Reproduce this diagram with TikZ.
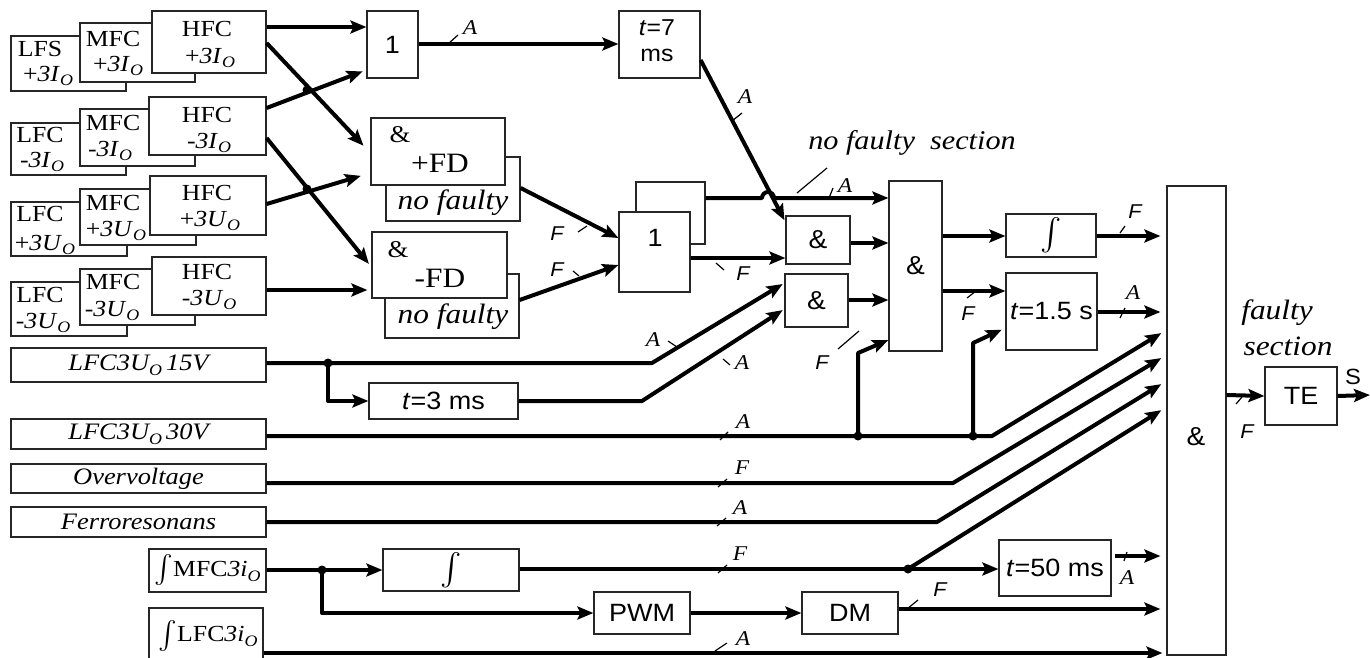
\documentclass[tikz,border=0pt]{standalone}
\usepackage{graphicx}
\usepackage{fontspec}
\setmainfont{Liberation Serif}[FakeStretch=1.12]
\setsansfont{Liberation Sans}[FakeStretch=1.08]
\usetikzlibrary{arrows.meta}
\newcommand\fsz[1]{\fontsize{#1pt}{#1pt}\selectfont}
\newcommand\so{\raisebox{-0.45ex}{\fsz{8}\itshape O}}
\newcommand\bigint[1]{\raisebox{-0.25ex}{\scalebox{#1}{$\int$}}}
\newcommand\bx[7][]{\node[box,#1,minimum width={(#5-#3)*0.5pt},minimum height={(#6-#4)*0.5pt}] (#2) at ({(#3+#5)/2},{(#4+#6)/2}) {#7};}
\begin{document}
\begin{tikzpicture}[x=0.5pt,y=-0.5pt,
 box/.style={draw=black!85,line width=0.6pt,fill=white,inner sep=0pt},
 wire/.style={line width=2pt,line join=round},
 arr/.style={wire,-{Stealth[length=8pt,width=6.5pt,inset=1.5pt]}},
 tick/.style={line width=0.6pt},
 jdot/.style={circle,fill=black,inner sep=0pt,minimum size=4.5pt},
 txt/.style={inner sep=0pt,font=\fsz{11.5}},
 lab/.style={inner sep=0pt,font=\fsz{10.5}\itshape},
 labs/.style={inner sep=0pt,font=\fsz{10}\sffamily\itshape},
 sans/.style={font=\fsz{12.5}\sffamily},
 inl/.style={font=\fsz{11.8}\itshape}]
\useasboundingbox (0,0) rectangle (1370,658);
% ---- left stacks
\bx{lfs1}{11}{36}{126}{91}{}
\bx{mfc1}{80}{23}{195}{82}{}
\bx{hfc1}{152}{11}{266}{73}{}
\bx{lfc2}{11}{123}{126}{175}{}
\bx{mfc2}{80}{109}{195}{166}{}
\bx{hfc2}{149}{97}{266}{155}{}
\bx{lfc3}{11}{202}{127}{256}{}
\bx{mfc3}{80}{189}{196}{245}{}
\bx{hfc3}{150}{176}{266}{235}{}
\bx{lfc4}{11}{282}{127}{336}{}
\bx{mfc4}{80}{269}{195}{325}{}
\bx{hfc4}{152}{257}{266}{315}{}
\node[txt] (tl1a) at (40,49) {LFS};
\node[txt] (tl1b) at (48,76) {+\textit{3I}\so};
\node[txt] (tm1a) at (113,39) {MFC};
\node[txt] (tm1b) at (118,66) {+\textit{3I}\so};
\node[txt] (th1a) at (207,29) {HFC};
\node[txt] (th1b) at (210,58) {+\textit{3I}\so};
\node[txt] (tl2a) at (40,135) {LFC};
\node[txt] (tl2b) at (42,162) {-\textit{3I}\so};
\node[txt] (tm2a) at (113,123) {MFC};
\node[txt] (tm2b) at (110,151) {-\textit{3I}\so};
\node[txt] (th2a) at (207,115) {HFC};
\node[txt] (th2b) at (209,143) {-\textit{3I}\so};
\node[txt] (tl3a) at (40,214) {LFC};
\node[txt] (tl3b) at (45,245) {+\textit{3U}\so};
\node[txt] (tm3a) at (113,203) {MFC};
\node[txt] (tm3b) at (116,231) {+\textit{3U}\so};
\node[txt] (th3a) at (207,193) {HFC};
\node[txt] (th3b) at (210,221) {+\textit{3U}\so};
\node[txt] (tl4a) at (40,295) {LFC};
\node[txt] (tl4b) at (43,323) {-\textit{3U}\so};
\node[txt] (tm4a) at (113,282) {MFC};
\node[txt] (tm4b) at (112,311) {-\textit{3U}\so};
\node[txt] (th4a) at (207,272) {HFC};
\node[txt] (th4b) at (209,300) {-\textit{3U}\so};
% ---- middle blocks
\bx[sans]{or1}{367}{11}{418}{78}{1}
\bx{t7}{619}{11}{700}{78}{}
\node[sans,inner sep=0pt,font=\fsz{11.5}\sffamily] (t7a) at (657,28) {\textit{t}=7};
\node[sans,inner sep=0pt,font=\fsz{11.5}\sffamily] (t7b) at (657,55) {ms};
\bx{nf1}{386}{157}{520}{221}{}
\bx{fdp}{371}{118}{505}{185}{}
\node[txt,font=\fsz{12}] (fdpa) at (400,135) {\&};
\node[txt,font=\fsz{14}] (fdpb) at (440,163) {+FD};
\node[txt,font=\fsz{14}\itshape] (nf1t) at (453,203) {no faulty};
\bx{nf2}{385}{274}{519}{338}{}
\bx{fdm}{372}{232}{507}{298}{}
\node[txt,font=\fsz{12}] (fdma) at (398,250) {\&};
\node[txt,font=\fsz{14}] (fdmb) at (440,278) {-FD};
\node[txt,font=\fsz{14}\itshape] (nf2t) at (453,317) {no faulty};
\bx{or2b}{636}{182}{705}{244}{}
\bx{or2}{619}{212}{690}{292}{}
\node[sans,inner sep=0pt] (or2t) at (655,238) {1};
\bx[sans,font=\fsz{13}\sffamily]{and1}{786}{216}{850}{264}{\&}
\bx[sans,font=\fsz{13}\sffamily]{and2}{785}{274}{848}{327}{\&}
\bx[sans,font=\fsz{13}\sffamily]{andc}{889}{181}{942}{351}{\&}
\bx{int1}{1006}{214}{1096}{257}{\bigint{1.6}}
\bx[sans]{t15}{1006}{273}{1097}{350}{\textit{t}=1.5 s}
\bx{andf}{1167}{186}{1226}{655}{}
\node[sans,inner sep=0pt,font=\fsz{13}\sffamily] (andft) at (1196,437) {\&};
\bx[sans]{te}{1265}{367}{1337}{425}{TE}
\node[txt,font=\fsz{13.5}\itshape] (nfs) at (912,143) {no faulty\ \ section};
\node[txt,font=\fsz{14}\itshape] (fs1) at (1277,313) {faulty};
\node[txt,font=\fsz{14}\itshape] (fs2) at (1288,346) {section};
% ---- lower inputs
\bx[inl]{in15}{11}{348}{266}{382}{LFC3U\so\,15V}
\bx[sans]{t3}{369}{383}{518}{419}{\textit{t}=3 ms}
\bx[inl]{in30}{11}{419}{266}{449}{LFC3U\so\,30V}
\bx[inl]{ov}{11}{464}{266}{493}{Overvoltage}
\bx[inl]{fer}{11}{507}{266}{537}{Ferroresonans}
\bx[font=\fsz{11.5}]{imfc}{149}{549}{266}{592}{\bigint{1.4}MFC\textit{3i}\so}
\bx{ilfc}{149}{608}{263}{672}{}
\node[txt,font=\fsz{11.5}] (ilfct) at (208,636) {\bigint{1.4}LFC\textit{3i}\so};
\bx{int2}{383}{549}{519}{591}{\bigint{1.6}}
\bx[sans]{pwm}{594}{592}{690}{634}{PWM}
\bx[sans]{dm}{802}{592}{898}{634}{DM}
\bx[sans]{t50}{999}{540}{1111}{596}{\textit{t}=50 ms}
% ---- connectors, upper part
\draw[arr] (hfc1.east|-0,27) -- (or1.west|-0,27);
\draw[arr,shorten >=5pt] (hfc1.east|-0,43) -- (fdp.west|-0,153);
\draw[arr,shorten >=2pt] (hfc2.east|-0,108) -- (or1.west|-0,70);
\draw[arr,shorten >=2pt] (hfc2.east|-0,138) -- (fdm.west|-0,267);
\draw[arr,shorten >=5pt] (hfc3.east|-0,204) -- (fdp.west|-0,173);
\draw[arr,shorten >=2pt] (hfc4.east|-0,290) -- (fdm.west|-0,290);
\node[jdot] (d1) at (307,90) {};
\node[jdot] (d2) at (307,189) {};
\draw[arr] (or1.east|-0,44) -- (t7.west|-0,44);
\draw[arr,shorten >=1pt] (t7.east|-0,60) -- (and1.west|-0,222);
\draw[arr] (nf1.east|-0,188) -- (or2.west|-0,238);
\draw[arr] (nf2.east|-0,300) -- (or2.west|-0,265);
\draw[arr] (or2b.east|-0,198) -- (762,198) arc[start angle=180,end angle=360,radius=6] -- (andc.west|-0,198);
\draw[arr] (or2.east|-0,258) -- (and1.west|-0,258);
\draw[arr] (and1.east|-0,243) -- (andc.west|-0,243);
\draw[arr] (and2.east|-0,300) -- (andc.west|-0,300);
\draw[arr] (andc.east|-0,236) -- (int1.west|-0,236);
\draw[arr] (andc.east|-0,291) -- (t15.west|-0,291);
\draw[arr,shorten >=3pt] (int1.east|-0,236) -- (andf.west|-0,236);
\draw[arr,shorten >=3pt] (t15.east|-0,312) -- (andf.west|-0,312);
\draw[arr] (andf.east|-0,395) -- (te.west);
\coordinate (sout) at (1370,395);
\draw[arr] (te.east) -- (sout);
% ---- connectors, lower part
\node[jdot] (j15) at (328,363) {};
\draw[arr,shorten >=1pt] (in15.east|-0,363) -- (652,363) -- (and2.west|-0,283);
\draw[arr] (j15.center) |- (t3.west);
\draw[arr,shorten >=1pt] (t3.east) -- (642,401) -- (and2.west|-0,309);
\node[jdot] (j30a) at (858,436) {};
\node[jdot] (j30b) at (973,436) {};
\draw[arr,shorten >=3pt] (in30.east|-0,436) -- (992,436) -- (andf.west|-0,330);
\draw[arr] (j30a.center) -- (858,353) -- (andc.west|-0,340);
\draw[arr,shorten >=2pt] (j30b.center) -- (973,343) -- (t15.west|-0,328);
\draw[arr,shorten >=3pt] (ov.east|-0,483) -- (953,483) -- (andf.west|-0,355);
\draw[arr,shorten >=3pt] (fer.east|-0,522) -- (937,522) -- (andf.west|-0,381);
\node[jdot] (jm) at (322,570) {};
\draw[arr] (imfc.east|-0,570) -- (int2.west|-0,570);
\draw[arr] (jm.center) |- (pwm.west);
\node[jdot] (j50) at (908,569) {};
\draw[arr] (int2.east|-0,569) -- (t50.west|-0,569);
\draw[arr,shorten >=3pt] (j50.center) -- (andf.west|-0,407);
\draw[arr] (pwm.east) -- (dm.west);
\draw[arr,shorten >=3pt] (dm.east|-0,609) -- (andf.west|-0,609);
\draw[arr,shorten >=2pt] (ilfc.east|-0,653) -- (andf.west|-0,653);
\coordinate (t50o) at (1115,556);
\draw[arr,shorten >=3pt] (t50o) -- (andf.west|-0,556);
% ---- ticks and labels
\draw[tick] (448,44) -- (458,35);   \node[lab] (la1) at (470,28) {A};
\draw[tick] (732,121) -- (742,113); \node[lab] (la2) at (745,97) {A};
\draw[tick] (797,193) -- (827,168);
\draw[tick] (829,198) -- (833,188); \node[lab] (la3) at (845,186) {A};
\draw[tick] (578,232) -- (587,226); \node[labs] (lf4a) at (557,234) {F};
\draw[tick] (573,271) -- (579,276); \node[labs] (lf4b) at (557,270) {F};
\draw[tick] (716,263) -- (724,270); \node[labs] (lf5) at (743,274) {F};
\draw[tick] (668,341) -- (677,347); \node[lab] (la6) at (653,340) {A};
\draw[tick] (723,359) -- (730,365); \node[lab] (la7) at (742,363) {A};
\draw[tick] (838,349) -- (859,331); \node[labs] (lf8) at (822,363) {F};
\draw[tick] (967,298) -- (976,291); \node[labs] (lf9) at (968,314) {F};
\draw[tick] (1120,233) -- (1125,226); \node[labs] (lf10) at (1135,212) {F};
\draw[tick] (1120,318) -- (1125,308); \node[lab] (la11) at (1133,293) {A};
\draw[tick] (1236,404) -- (1242,397); \node[labs] (lf12) at (1247,432) {F};
\draw[tick] (720,440) -- (728,432); \node[lab] (la13) at (743,422) {A};
\draw[tick] (718,487) -- (727,479); \node[lab] (lf14) at (742,468) {F};
\draw[tick] (717,526) -- (726,518); \node[lab] (la15) at (740,508) {A};
\draw[tick] (718,573) -- (727,565); \node[lab] (lf16) at (740,554) {F};
\draw[tick] (1124,561) -- (1127,552); \node[lab] (la17) at (1127,578) {A};
\draw[tick] (907,609) -- (918,600); \node[labs] (lf18) at (940,590) {F};
\draw[tick] (715,651) -- (727,643); \node[lab] (la19) at (743,639) {A};
\node[inner sep=0pt,font=\fsz{11}\sffamily] (ls) at (1353,377) {S};
\end{tikzpicture}
\end{document}
